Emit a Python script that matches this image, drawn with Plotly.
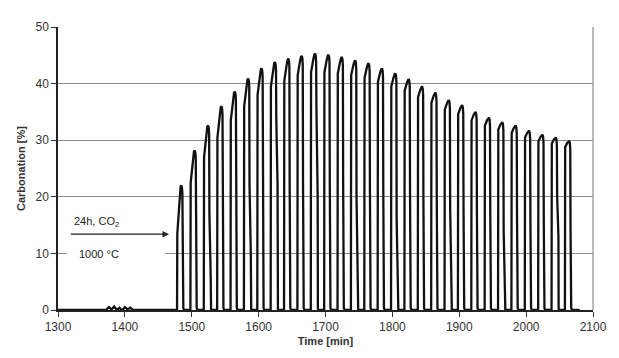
import plotly.graph_objects as go

# ---- data ----
baseline_t = [1300, 1372, 1376, 1380, 1384, 1388, 1392, 1396, 1400, 1404, 1408, 1412, 1416, 1478]
baseline_v = [0.0, 0.0, 0.5, 0.1, 0.6, 0.0, 0.4, -0.1, 0.5, 0.1, 0.4, 0.0, 0.0, 0.0]

cycle_start = [1478, 1498, 1518, 1538, 1558, 1578, 1598, 1618, 1638, 1658,
               1678, 1698, 1718, 1738, 1758, 1778, 1798, 1818, 1838, 1858,
               1878, 1898, 1918, 1938, 1958, 1978, 1998, 2018, 2038, 2058]
cycle_peak = [22.0, 28.2, 32.6, 36.0, 38.6, 40.9, 42.7, 43.8, 44.4, 44.9,
              45.3, 45.1, 44.7, 44.1, 43.6, 42.7, 41.8, 40.8, 39.5, 38.4,
              37.1, 36.2, 35.0, 34.0, 33.2, 32.6, 31.7, 31.0, 30.5, 29.9]
# level reached by the fast first part of each carbonation (% carbonation)
cycle_shoulder = [13.5, 22.5, 27.0, 30.5, 33.5, 36.0, 38.0, 39.5, 40.5, 41.5,
                  42.0, 42.0, 41.8, 41.5, 41.0, 40.3, 39.5, 38.7, 37.6, 36.6,
                  35.4, 34.6, 33.5, 32.6, 31.9, 31.3, 30.5, 29.8, 29.4, 28.8]
# level range over which the calcination drop is slanted (0,0 = straight drop)
drop_slant_hi = [0, 0, 17, 0, 0, 22, 0, 34, 0, 0,
                 36, 0, 0, 20, 0, 0, 16, 0, 0, 0,
                 18, 0, 0, 0, 14, 0, 0, 0, 20, 0]
drop_slant_lo = [0, 0, 6, 0, 0, 10, 0, 22, 0, 0,
                 20, 0, 0, 8, 0, 0, 5, 0, 0, 0,
                 6, 0, 0, 0, 4, 0, 0, 0, 13, 0]
tail_t = [2080]
tail_v = [0.0]

y_ticks = [0, 10, 20, 30, 40, 50]
x_ticks = [1300, 1400, 1500, 1600, 1700, 1800, 1900, 2000, 2100]

# ---- build the trace (one loop per cycle, drawn through the read values) ----
t = list(baseline_t)
v = list(baseline_v)
for s, sh, p, hi, lo in zip(cycle_start, cycle_shoulder, cycle_peak, drop_slant_hi, drop_slant_lo):
    t += [s, s + 0.4, s + 1.4, s + 2.2]
    v += [0.0, sh, sh + 0.25 * (p - sh), sh + 0.3 * (p - sh)]
    t += [s + 3.8, s + 5.3, s + 6.4, s + 7.4, s + 8.0]
    v += [sh + 0.7 * (p - sh), p - 0.2, p, p - 0.4, p - 1.5]
    if hi > 0:
        t += [s + 8.4, s + 10.3, s + 10.6]
        v += [hi, lo, 0.3]
    else:
        t += [s + 8.4, s + 8.9, s + 9.4]
        v += [p * 0.5, p * 0.1, 0.3]
    t += [s + 10.9, s + 19.6]
    v += [0.0, 0.0]
t += tail_t
v += tail_v

fig = go.Figure()
fig.add_trace(go.Scatter(x=t, y=v, mode="lines",
                         line=dict(color="#111111", width=2.3),
                         showlegend=False, hoverinfo="skip"))

font = "Liberation Sans, Arial, sans-serif"
# the page body adds an 8px margin, so the figure is 8px smaller and margins compensate
fig.update_layout(
    width=611, height=350,
    margin=dict(l=50, r=14, t=12, b=48),
    paper_bgcolor="white", plot_bgcolor="white",
    font=dict(family=font, size=12, color="#333"),
    xaxis=dict(range=[1300, 2100], tickvals=x_ticks, ticks="outside", ticklen=5,
               tickcolor="#333", showline=True, linecolor="#222", linewidth=1.5,
               showgrid=False, zeroline=False,
               title=dict(text="<b>Time [min]</b>", font=dict(size=11, color="#333"), standoff=4)),
    yaxis=dict(range=[0, 50], tickvals=y_ticks, ticks="outside", ticklen=5,
               tickcolor="#333", showline=True, linecolor="#222", linewidth=1.5,
               showgrid=True, gridcolor="#8c8c8c", gridwidth=1, zeroline=False,
               title=dict(text="<b>Carbonation [%]</b>", font=dict(size=11, color="#333"), standoff=8)),
)
# right border
fig.add_shape(type="line", xref="paper", yref="paper", x0=1, x1=1, y0=0, y1=1,
              line=dict(color="#8c8c8c", width=1.2))
# white label box interrupting the 10 % gridline
fig.add_shape(type="rect", xref="x", yref="y", x0=1313, x1=1460, y0=8, y1=18.5,
              fillcolor="white", line=dict(width=0), layer="between")
fig.add_annotation(x=1466, y=13.4, ax=1317, ay=13.4, xref="x", yref="y",
                   axref="x", ayref="y", text="", showarrow=True,
                   arrowhead=2, arrowsize=1, arrowwidth=1.3, arrowcolor="#222")
fig.add_annotation(x=1358, y=15.6, xref="x", yref="y", showarrow=False,
                   text="24h, CO<sub>2</sub>", font=dict(size=11, color="#222"))
fig.add_annotation(x=1362, y=9.9, xref="x", yref="y", showarrow=False,
                   text="1000 °C", font=dict(size=11, color="#222"))

fig.write_html("out.html")
